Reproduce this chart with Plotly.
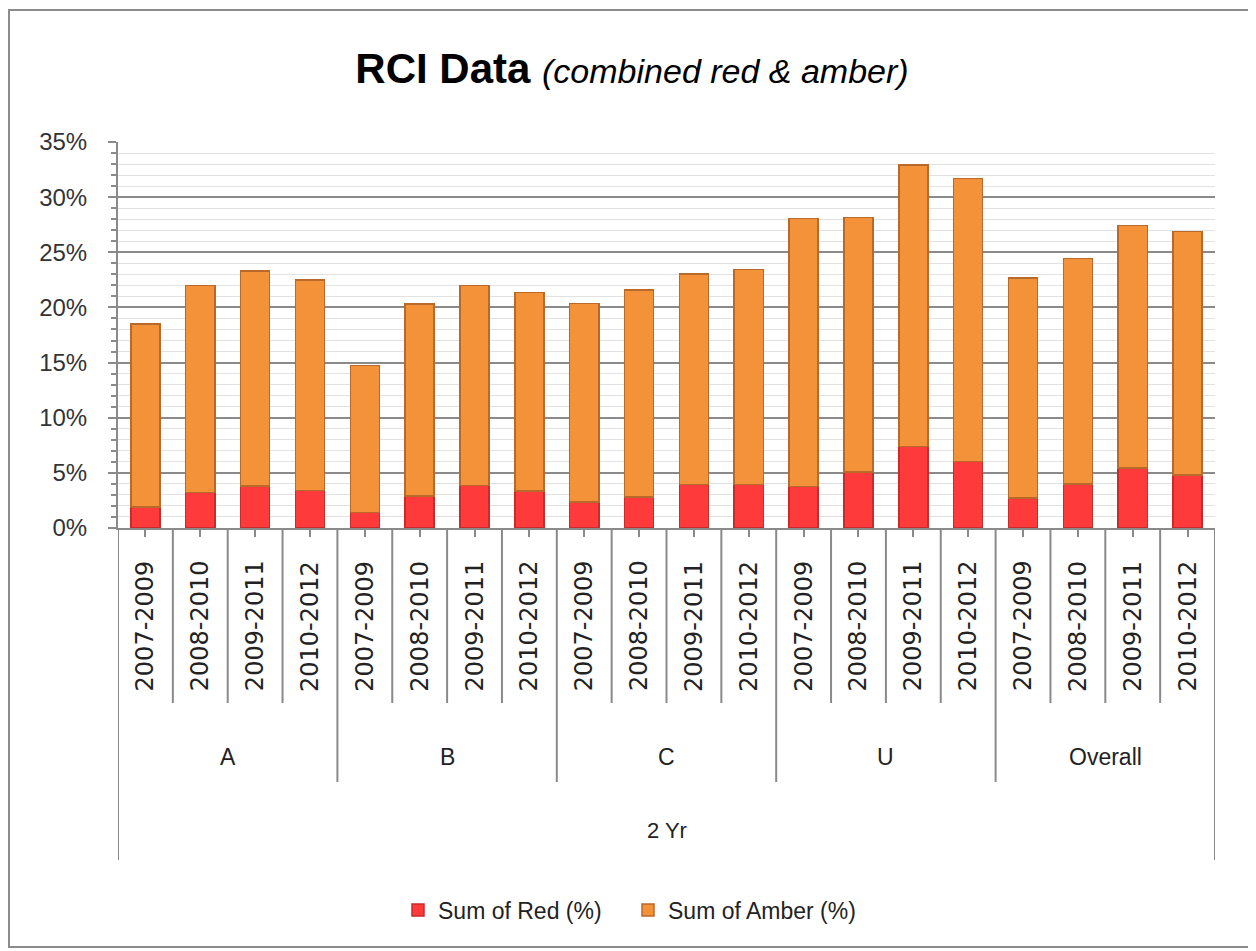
import plotly.graph_objects as go

# ---- data ----
groups = ["A", "B", "C", "U", "Overall"]
periods = ["2007-2009", "2008-2010", "2009-2011", "2010-2012"]
outer_label = "2 Yr"
red_pct = [1.9, 3.2, 3.8, 3.4,
           1.4, 2.9, 3.85, 3.35,
           2.35, 2.8, 3.95, 3.95,
           3.75, 5.1, 7.4, 6.05,
           2.7, 4.0, 5.45, 4.8]
amber_pct = [16.6, 18.8, 19.5, 19.1,
             13.35, 17.4, 18.15, 18.0,
             18.0, 18.8, 19.1, 19.5,
             24.3, 23.05, 25.5, 25.65,
             19.95, 20.45, 22.0, 22.1]
y_ticks = [0, 5, 10, 15, 20, 25, 30, 35]
y_tick_text = ["0%", "5%", "10%", "15%", "20%", "25%", "30%", "35%"]

n_per = len(periods)
n = len(groups) * n_per
xs = list(range(n))

OFF = 8  # page body margin
W, H = 1256 - OFF, 951 - OFF
L, R = 118 - OFF, 41
T = 142 - OFF
B = H - (528 - OFF)
ph = H - T - B
pw = W - L - R


def py(pix):
    """reference pixel row -> paper y"""
    return ((528 - OFF) - (pix - OFF)) / ph


def px(pix):
    return ((pix - OFF) - L) / pw


fig = go.Figure()
fig.add_trace(go.Bar(x=xs, y=red_pct, name="Sum of Red (%)", width=0.53,
                     marker=dict(color="#FF3A3A", line=dict(color="#C92A2A", width=1.5))))
fig.add_trace(go.Bar(x=xs, y=amber_pct, name="Sum of Amber (%)", width=0.53,
                     marker=dict(color="#F39239", line=dict(color="#B9692A", width=1.5))))

shapes = []
annotations = []
line_col = "#8a8a8a"
for i in range(1, n):
    y1 = py(782) if i % n_per == 0 else py(703)
    shapes.append(dict(type="line", xref="x", yref="paper", x0=i - 0.5, x1=i - 0.5,
                       y0=0, y1=y1, line=dict(color=line_col, width=2)))
for xb in (-0.5, n - 0.5):
    shapes.append(dict(type="line", xref="x", yref="paper", x0=xb, x1=xb,
                       y0=0, y1=py(860), line=dict(color=line_col, width=2)))
# outer chart border
shapes.append(dict(type="rect", xref="paper", yref="paper", x0=px(9), x1=px(1249),
                   y0=py(947), y1=py(10), line=dict(color="#8c8c8c", width=2)))

lab_font = dict(family="DejaVu Sans", size=24, color="#222222")
for gi, g in enumerate(groups):
    for pi, p in enumerate(periods):
        annotations.append(dict(x=gi * n_per + pi, y=py(626), xref="x", yref="paper",
                                text=p, textangle=-90, showarrow=False,
                                xanchor="center", yanchor="middle", font=lab_font))
    annotations.append(dict(x=gi * n_per + (n_per - 1) / 2, y=py(757), xref="x", yref="paper",
                            text=g, showarrow=False, xanchor="center", yanchor="middle",
                            font=dict(family="Liberation Sans", size=23, color="#222222")))
annotations.append(dict(x=(n - 1) / 2, y=py(830), xref="x", yref="paper",
                        text=outer_label, showarrow=False, xanchor="center", yanchor="middle",
                        font=dict(family="Liberation Sans", size=22, color="#222222")))

fig.update_layout(
    width=W, height=H,
    barmode="stack",
    paper_bgcolor="white", plot_bgcolor="white",
    margin=dict(l=L, r=R, t=T, b=B, autoexpand=False),
    title=dict(text="<b>RCI Data</b> <i><span style='font-size:34px'>(combined red &amp; amber)</span></i>",
               x=(632 - OFF) / W, xanchor="center", y=1 - (68 - OFF) / H, yanchor="middle",
               font=dict(family="Liberation Sans", size=42, color="black")),
    xaxis=dict(range=[-0.5, n - 0.5], tickvals=xs, showticklabels=False,
               ticks="outside", ticklen=7, tickwidth=2, tickcolor=line_col,
               showgrid=False, showline=True, linecolor=line_col, linewidth=2,
               zeroline=False, fixedrange=True),
    yaxis=dict(range=[0, 35], tickvals=y_ticks, ticktext=y_tick_text, tickmode="array",
               ticks="outside", ticklen=8, tickwidth=2, tickcolor=line_col,
               ticklabelstandoff=16,
               tickfont=dict(family="Liberation Sans", size=24, color="#333333"),
               showgrid=True, gridcolor="#8a8a8a", gridwidth=2,
               showline=True, linecolor=line_col, linewidth=2, zeroline=False,
               minor=dict(dtick=1, showgrid=True, gridcolor="#e2e2e2", gridwidth=1,
                          ticks="outside", ticklen=5, tickcolor=line_col, tickwidth=2)),
    legend=dict(orientation="h", x=px(398), xanchor="left", y=py(910), yanchor="middle",
                font=dict(family="Liberation Sans", size=23, color="#222222"),
                entrywidth=185, entrywidthmode="pixels",
                traceorder="normal", itemwidth=30, bgcolor="rgba(0,0,0,0)"),
    shapes=shapes,
    annotations=annotations,
    showlegend=True,
)

fig.write_html("out.html")
